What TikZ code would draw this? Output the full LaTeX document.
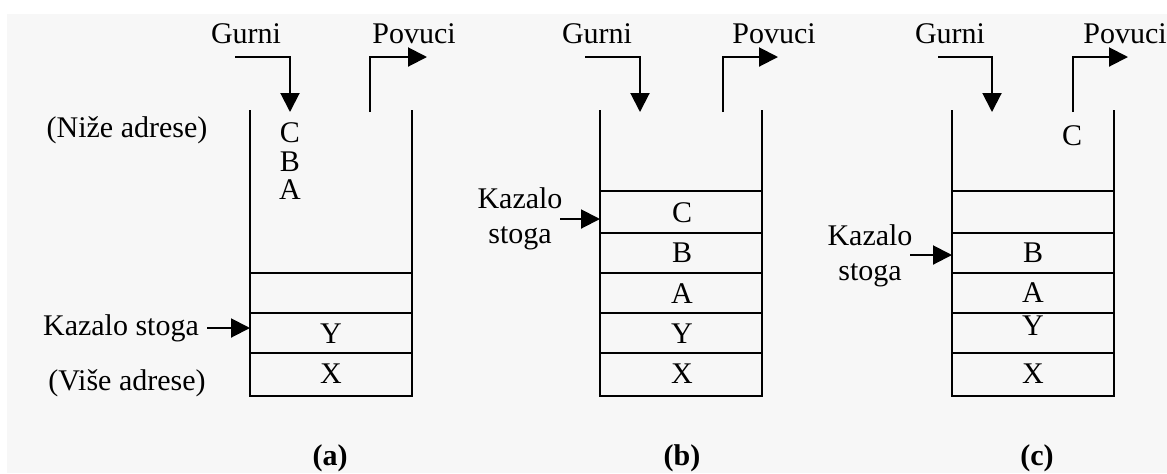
\documentclass[tikz,border=0pt]{standalone}
\usepackage{fontspec}
\setmainfont{Liberation Serif}
\usetikzlibrary{arrows.meta}
\definecolor{papir}{HTML}{F7F7F7}

\begin{document}
\begin{tikzpicture}[x=0.5pt, y=-0.5pt,
		zid/.style={line width = 1pt},
		strelica/.style={line width = 1pt, -{Triangle[length=9.5pt, width=9.5pt]}},
		natpis/.style={font=\fontsize{15}{17}\selectfont, inner sep=0pt, anchor=base},
		oznaka/.style={font=\fontsize{15}{17}\selectfont\bfseries, inner sep=0pt, anchor=base}]
		
		\useasboundingbox (0,0) rectangle (1167,473);
		\fill[papir] (7,14) rectangle (1167,473);
		
		% stog (a)
		\draw[zid] (250,110) -- (250,396) -- (412,396) -- (412,110);
		\draw[zid] (250,273) -- (412,273);
		\draw[zid] (250,313) -- (412,313);
		\draw[zid] (250,353) -- (412,353);
		
		\node[natpis] (gurniA) at (246,43) {Gurni};
		\node[natpis] (povuciA) at (414,43) {Povuci};
		\coordinate (gurniPocA) at (235,57);
		\coordinate (ulazA) at (290,112);
		\coordinate (izlazA) at (370,112);
		\coordinate (povuciKrajA) at (427,57);
		\draw[strelica] (gurniPocA) -| (ulazA);
		\draw[strelica] (izlazA) |- (povuciKrajA);
		
		\node[natpis] (nizeA) at (127,137) {(Niže adrese)};
		\node[natpis] (viseA) at (127,390) {(Više adrese)};
		\node[natpis] (cA) at (290,142) {C};
		\node[natpis] (bA) at (290,171) {B};
		\node[natpis] (aA) at (290,199) {A};
		\node[natpis] (yA) at (331,343) {Y};
		\node[natpis] (xA) at (331,383) {X};
		
		\node[natpis] (kazaloA) at (121,335) {Kazalo stoga};
		\coordinate (kazaloPocA) at (207,328);
		\coordinate (kazaloKrajA) at (250,328);
		\draw[strelica] (kazaloPocA) -- (kazaloKrajA);
		
		\node[oznaka] (labA) at (330,465) {(a)};
		
		% stog (b)
		\draw[zid] (600,110) -- (600,396) -- (762,396) -- (762,110);
		\draw[zid] (600,191) -- (762,191);
		\draw[zid] (600,233) -- (762,233);
		\draw[zid] (600,273) -- (762,273);
		\draw[zid] (600,313) -- (762,313);
		\draw[zid] (600,353) -- (762,353);
		
		\node[natpis] (gurniB) at (597,43) {Gurni};
		\node[natpis] (povuciB) at (774,43) {Povuci};
		\coordinate (gurniPocB) at (585,57);
		\coordinate (ulazB) at (640,112);
		\coordinate (izlazB) at (723,112);
		\coordinate (povuciKrajB) at (778,57);
		\draw[strelica] (gurniPocB) -| (ulazB);
		\draw[strelica] (izlazB) |- (povuciKrajB);
		
		\node[natpis] (cB) at (682,222) {C};
		\node[natpis] (bB) at (682,262) {B};
		\node[natpis] (aB) at (682,303) {A};
		\node[natpis] (yB) at (682,343) {Y};
		\node[natpis] (xB) at (682,383) {X};
		
		\node[natpis] (kazaloB) at (520,208) {Kazalo};
		\node[natpis] (stogaB) at (520,243) {stoga};
		\coordinate (kazaloPocB) at (560,219);
		\coordinate (kazaloKrajB) at (600,219);
		\draw[strelica] (kazaloPocB) -- (kazaloKrajB);
		
		\node[oznaka] (labB) at (682,465) {(b)};
		
		% stog (c)
		\draw[zid] (952,110) -- (952,396) -- (1114,396) -- (1114,110);
		\draw[zid] (952,191) -- (1114,191);
		\draw[zid] (952,233) -- (1114,233);
		\draw[zid] (952,273) -- (1114,273);
		\draw[zid] (952,313) -- (1114,313);
		\draw[zid] (952,353) -- (1114,353);
		
		\node[natpis] (gurniC) at (950,43) {Gurni};
		\node[natpis] (povuciC) at (1125,43) {Povuci};
		\coordinate (gurniPocC) at (938,57);
		\coordinate (ulazC) at (992,112);
		\coordinate (izlazC) at (1073,112);
		\coordinate (povuciKrajC) at (1128,57);
		\draw[strelica] (gurniPocC) -| (ulazC);
		\draw[strelica] (izlazC) |- (povuciKrajC);
		
		\node[natpis] (cC) at (1072,145) {C};
		\node[natpis] (bC) at (1033,262) {B};
		\node[natpis] (aC) at (1033,302) {A};
		\node[natpis] (yC) at (1033,335) {Y};
		\node[natpis] (xC) at (1033,383) {X};
		
		\node[natpis] (kazaloC) at (870,245) {Kazalo};
		\node[natpis] (stogaC) at (870,280) {stoga};
		\coordinate (kazaloPocC) at (910,255);
		\coordinate (kazaloKrajC) at (952,255);
		\draw[strelica] (kazaloPocC) -- (kazaloKrajC);
		
		\node[oznaka] (labC) at (1037,465) {(c)};
		
	\end{tikzpicture}
\end{document}
